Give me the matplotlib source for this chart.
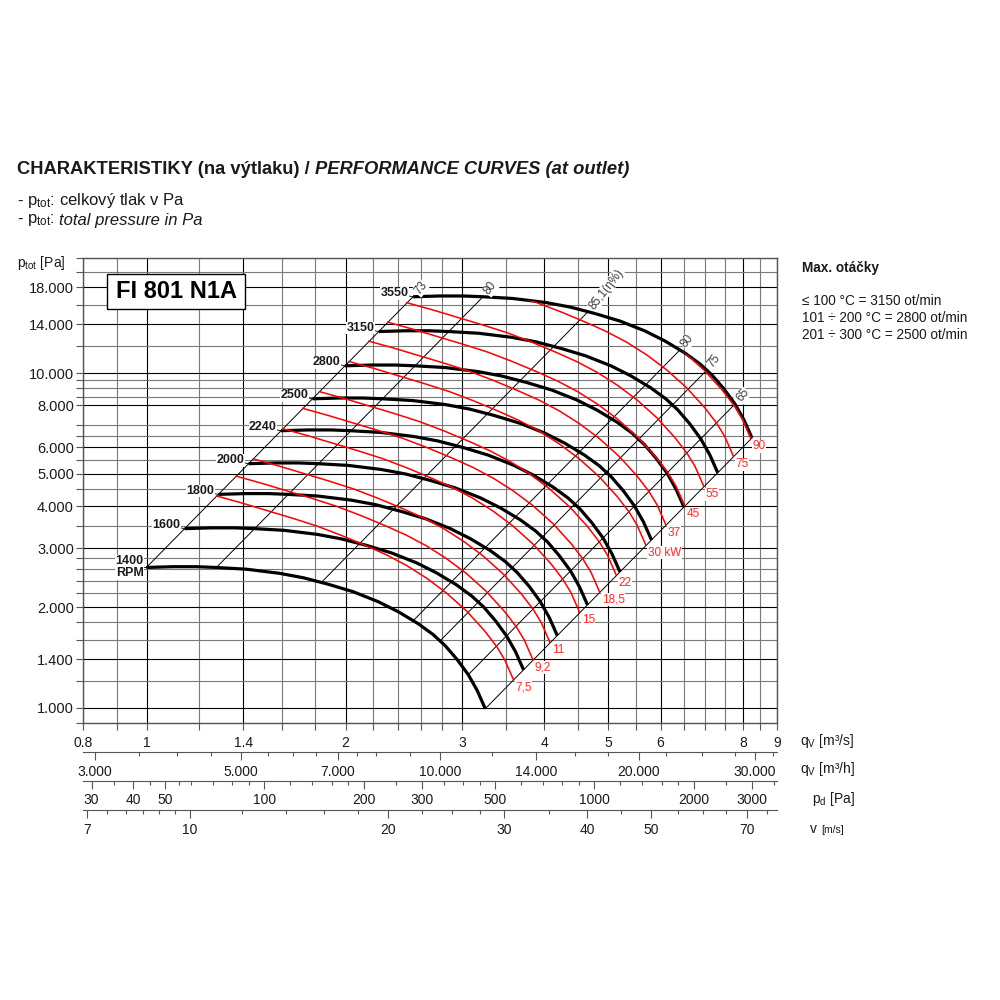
import matplotlib
matplotlib.use('Agg')
import matplotlib.pyplot as plt
from matplotlib.path import Path
from matplotlib.patches import Rectangle
from matplotlib.ticker import NullLocator, NullFormatter

plt.rcParams['font.family'] = ['Liberation Sans', 'DejaVu Sans']
plt.rcParams['mathtext.fontset'] = 'custom'
plt.rcParams['mathtext.rm'] = 'Liberation Sans'
plt.rcParams['mathtext.it'] = 'Liberation Sans:italic'
plt.rcParams['mathtext.bf'] = 'Liberation Sans:bold'

# ---- grid / ticks -------------------------------------------------------
q_grid = [0.8, 0.9, 1, 1.2, 1.4, 1.6, 1.8, 2, 2.2, 2.4, 2.6, 2.8, 3, 3.5, 4,
          4.5, 5, 5.5, 6, 6.5, 7, 7.5, 8, 8.5, 9]
q_labels = {0.8: '0.8', 1: '1', 1.4: '1.4', 2: '2', 3: '3', 4: '4', 5: '5',
            6: '6', 8: '8', 9: '9'}
p_grid = [900, 1000, 1200, 1400, 1600, 1800, 2000, 2200, 2400, 2600, 2800,
          3000, 3500, 4000, 4500, 5000, 5500, 6000, 6500, 7000, 8000, 8500,
          9000, 9500, 10000, 12000, 14000, 16000, 18000, 20000, 22000]
p_labels = {1000: '1.000', 1400: '1.400', 2000: '2.000', 3000: '3.000',
            4000: '4.000', 5000: '5.000', 6000: '6.000', 8000: '8.000',
            10000: '10.000', 14000: '14.000', 18000: '18.000'}

# ---- fan curves (q in m3/s, p in Pa) -------------------------------------
q_3550 = [2.530, 2.779, 3.012, 3.229, 3.585, 4.023, 4.374, 4.773, 5.208, 5.683, 6.093, 6.534, 6.885, 7.179, 7.486, 7.779, 8.027, 8.254]
p_3550 = [16890, 16980, 16980, 16890, 16690, 16230, 15740, 15050, 14290, 13350, 12460, 11470, 10640, 9860, 8960, 8080, 7240, 6400]
q_3150 = [2.245, 2.466, 2.673, 2.865, 3.181, 3.570, 3.881, 4.235, 4.621, 5.043, 5.407, 5.798, 6.109, 6.370, 6.642, 6.902, 7.123, 7.324]
p_3150 = [13298, 13369, 13369, 13298, 13141, 12779, 12393, 11849, 11251, 10511, 9810, 9031, 8377, 7763, 7055, 6362, 5700, 5039]
q_2800 = [1.995, 2.192, 2.376, 2.547, 2.828, 3.173, 3.450, 3.765, 4.108, 4.482, 4.806, 5.154, 5.430, 5.662, 5.904, 6.136, 6.331, 6.510]
p_2800 = [10507, 10563, 10563, 10507, 10383, 10097, 9792, 9363, 8890, 8305, 7751, 7135, 6619, 6134, 5574, 5027, 4504, 3981]
q_2500 = [1.782, 1.957, 2.121, 2.274, 2.525, 2.833, 3.080, 3.361, 3.668, 4.002, 4.291, 4.601, 4.849, 5.056, 5.272, 5.478, 5.653, 5.813]
p_2500 = [8376, 8421, 8421, 8376, 8277, 8049, 7806, 7464, 7087, 6621, 6179, 5688, 5277, 4890, 4444, 4007, 3591, 3174]
q_2240 = [1.596, 1.754, 1.901, 2.037, 2.262, 2.538, 2.760, 3.012, 3.286, 3.586, 3.845, 4.123, 4.344, 4.530, 4.724, 4.909, 5.065, 5.208]
p_2240 = [6725, 6761, 6761, 6725, 6645, 6462, 6267, 5992, 5690, 5315, 4961, 4567, 4236, 3926, 3567, 3217, 2883, 2548]
q_2000 = [1.425, 1.566, 1.697, 1.819, 2.020, 2.266, 2.464, 2.689, 2.934, 3.202, 3.433, 3.681, 3.879, 4.045, 4.217, 4.383, 4.522, 4.650]
p_2000 = [5361, 5389, 5389, 5361, 5297, 5151, 4996, 4777, 4536, 4237, 3955, 3641, 3377, 3130, 2844, 2565, 2298, 2031]
q_1800 = [1.283, 1.409, 1.527, 1.637, 1.818, 2.040, 2.218, 2.420, 2.641, 2.881, 3.089, 3.313, 3.491, 3.640, 3.796, 3.944, 4.070, 4.185]
p_1800 = [4342, 4365, 4365, 4342, 4291, 4173, 4047, 3869, 3674, 3432, 3203, 2949, 2735, 2535, 2304, 2077, 1861, 1645]
q_1600 = [1.140, 1.252, 1.358, 1.455, 1.616, 1.813, 1.971, 2.151, 2.347, 2.561, 2.746, 2.945, 3.103, 3.236, 3.374, 3.506, 3.618, 3.720]
p_1600 = [3431, 3449, 3449, 3431, 3390, 3297, 3197, 3057, 2903, 2712, 2531, 2330, 2161, 2003, 1820, 1641, 1471, 1300]
q_1400 = [0.998, 1.096, 1.188, 1.273, 1.414, 1.587, 1.725, 1.882, 2.054, 2.241, 2.403, 2.577, 2.715, 2.831, 2.952, 3.068, 3.166, 3.255]
p_1400 = [2627, 2641, 2641, 2627, 2596, 2524, 2448, 2341, 2223, 2076, 1938, 1784, 1655, 1534, 1394, 1257, 1126, 995]

rpm_labels = ['1400\nRPM', '1600', '1800', '2000', '2240', '2500', '2800', '3150', '3550']

# ---- motor power curves (kW) ---------------------------------------------
q_kw7_5 = [1.275, 1.392, 1.518, 1.657, 1.808, 1.972, 2.152, 2.308, 2.475, 2.653, 2.845, 3.051, 3.248, 3.387, 3.483, 3.589]
p_kw7_5 = [4294, 4092, 3887, 3691, 3494, 3273, 3045, 2862, 2661, 2440, 2201, 1945, 1698, 1525, 1393, 1218]
q_kw9_2 = [1.365, 1.490, 1.625, 1.774, 1.935, 2.111, 2.304, 2.471, 2.649, 2.840, 3.046, 3.266, 3.477, 3.626, 3.729, 3.842]
p_kw9_2 = [4921, 4689, 4455, 4230, 4004, 3751, 3490, 3280, 3050, 2796, 2522, 2229, 1946, 1748, 1596, 1396]
q_kw11 = [1.449, 1.581, 1.725, 1.883, 2.054, 2.240, 2.445, 2.622, 2.812, 3.014, 3.232, 3.466, 3.690, 3.848, 3.957, 4.077]
p_kw11 = [5542, 5282, 5017, 4764, 4510, 4224, 3930, 3694, 3435, 3149, 2841, 2510, 2192, 1968, 1798, 1572]
q_kw15 = [1.606, 1.754, 1.913, 2.088, 2.278, 2.485, 2.711, 2.908, 3.118, 3.343, 3.584, 3.844, 4.092, 4.267, 4.388, 4.522]
p_kw15 = [6816, 6496, 6170, 5859, 5546, 5196, 4834, 4543, 4224, 3873, 3494, 3087, 2695, 2421, 2211, 1933]
q_kw18_5 = [1.723, 1.881, 2.051, 2.239, 2.443, 2.664, 2.908, 3.118, 3.344, 3.584, 3.844, 4.122, 4.388, 4.576, 4.706, 4.849]
p_kw18_5 = [7839, 7470, 7096, 6738, 6378, 5975, 5559, 5225, 4858, 4454, 4018, 3551, 3100, 2784, 2543, 2223]
q_kw22 = [1.825, 1.993, 2.173, 2.372, 2.588, 2.823, 3.081, 3.304, 3.543, 3.798, 4.073, 4.368, 4.650, 4.849, 4.986, 5.138]
p_kw22 = [8799, 8385, 7965, 7564, 7160, 6707, 6240, 5865, 5453, 5000, 4510, 3986, 3480, 3125, 2855, 2496]
q_kw30 = [2.024, 2.210, 2.410, 2.630, 2.870, 3.130, 3.416, 3.664, 3.929, 4.211, 4.516, 4.843, 5.156, 5.377, 5.529, 5.697]
p_kw30 = [10820, 10311, 9795, 9301, 8804, 8247, 7673, 7212, 6705, 6148, 5546, 4901, 4279, 3843, 3510, 3069]
q_kw37 = [2.170, 2.369, 2.584, 2.821, 3.078, 3.357, 3.663, 3.929, 4.213, 4.516, 4.843, 5.193, 5.529, 5.765, 5.929, 6.109]
p_kw37 = [12442, 11857, 11263, 10695, 10124, 9484, 8823, 8293, 7710, 7070, 6377, 5636, 4920, 4419, 4036, 3529]
q_kw45 = [2.317, 2.529, 2.758, 3.011, 3.285, 3.583, 3.910, 4.194, 4.497, 4.821, 5.170, 5.544, 5.902, 6.155, 6.329, 6.522]
p_kw45 = [14178, 13511, 12835, 12187, 11537, 10807, 10054, 9450, 8786, 8057, 7268, 6422, 5607, 5035, 4600, 4022]
q_kw55 = [2.477, 2.704, 2.949, 3.219, 3.513, 3.831, 4.181, 4.484, 4.808, 5.154, 5.527, 5.927, 6.310, 6.580, 6.767, 6.973]
p_kw55 = [16208, 15445, 14672, 13932, 13188, 12354, 11493, 10803, 10044, 9210, 8308, 7341, 6409, 5756, 5258, 4597]
q_kw75 = [3.570, 3.895, 4.248, 4.636, 4.972, 5.332, 5.716, 6.129, 6.573, 6.998, 7.297, 7.504, 7.732]
p_kw75 = [17132, 16218, 15192, 14134, 13284, 12351, 11326, 10216, 9028, 7881, 7078, 6466, 5654]
q_kw90 = [4.927, 5.284, 5.666, 6.074, 6.513, 6.985, 7.436, 7.754, 7.974, 8.217]
p_kw90 = [15960, 15001, 13948, 12789, 11537, 10195, 8900, 7993, 7301, 6384]

kw_labels = ['7,5', '9,2', '11', '15', '18,5', '22', '30 kW', '37', '45', '55', '75', '90']

# ---- efficiency lines (top point on 3550 curve, bottom point on 1400) ----
eta_top_q = [2.53, 3.23, 4.66, 6.42, 7.05, 7.78, 8.254]
eta_top_p = [16890, 16890, 15250, 11720, 10200, 8080, 6400]
eta_bot_q = [0.998, 1.274, 1.838, 2.532, 2.780, 3.068, 3.255]
eta_bot_p = [2627, 2627, 2372, 1823, 1586, 1257, 995]
eta_labels = ['73', '80', '85,1(η%)', '80', '75', '65', '']

# ---- lower scales ---------------------------------------------------------
m3h_major = [3000, 5000, 7000, 10000, 14000, 20000, 30000]
m3h_minor = [3500, 4000, 4500, 5500, 6000, 6500, 7500, 8000, 9000, 12000,
             16000, 18000, 22000, 25000, 28000, 32000]
pd_major = [30, 40, 50, 100, 200, 300, 500, 1000, 2000, 3000]
pd_minor = [35, 45, 55, 60, 70, 80, 90, 120, 140, 160, 180, 250, 350, 400,
            450, 600, 700, 800, 900, 1200, 1400, 1600, 1800, 2500, 3500]
v_major = [7, 10, 20, 30, 40, 50, 70]
v_minor = [7.5, 8, 8.5, 9, 9.5, 12, 14, 16, 18, 22.5, 25, 27.5, 35, 45, 55,
           60, 65, 75]
PD_PER_Q2 = 44.13   # dynamic pressure per (m3/s)^2 at the outlet
V_PER_Q = 8.62      # outlet velocity per m3/s

TXT = '#1a1a1a'
GRAY = '#7a7a7a'
RED = '#ff0000'

fig = plt.figure(figsize=(10, 10), dpi=100)
L, B, W, H = 0.083, 0.2767, 0.6938, 0.465
ax = fig.add_axes([L, B, W, H])
ax.set_xscale('log')
ax.set_yscale('log')
ax.set_xlim(0.8, 9)
ax.set_ylim(900, 22000)

for q in q_grid:
    c = 'black' if q in q_labels else GRAY
    ax.axvline(q, color=c, lw=0.8, zorder=1)
for p in p_grid:
    c = 'black' if p in p_labels else GRAY
    ax.axhline(p, color=c, lw=0.8, zorder=1)

ax.xaxis.set_minor_locator(NullLocator())
ax.yaxis.set_minor_locator(NullLocator())
ax.set_xticks(q_grid)
ax.set_xticklabels([q_labels.get(q, '') for q in q_grid])
ax.set_yticks(p_grid)
ax.set_yticklabels([p_labels.get(p, '') for p in p_grid])
ax.tick_params(axis='both', direction='out', length=5, width=0.8,
               color='#555555', labelcolor=TXT)
ax.tick_params(axis='x', labelsize=10, pad=4)
ax.tick_params(axis='y', labelsize=10.5, pad=1.5)
for s in ax.spines.values():
    s.set_color('#555555')
    s.set_linewidth(1.0)

# efficiency lines
for tq, tp, bq, bp, lab in zip(eta_top_q, eta_top_p, eta_bot_q, eta_bot_p, eta_labels):
    ax.plot([bq, tq], [bp, tp], color='black', lw=0.7, zorder=3)
    if lab:
        ax.annotate(lab, xy=(tq, tp), xytext=(2.5, 2.5), textcoords='offset points',
                    rotation=52, rotation_mode='anchor', ha='left', va='center',
                    fontsize=8.5, color='#3a3a3a', zorder=7,
                    bbox=dict(fc='white', ec='none', pad=0.3))

# fan curves
fan_q = [q_1400, q_1600, q_1800, q_2000, q_2240, q_2500, q_2800, q_3150, q_3550]
fan_p = [p_1400, p_1600, p_1800, p_2000, p_2240, p_2500, p_2800, p_3150, p_3550]
for qs, ps, lab in zip(fan_q, fan_p, rpm_labels):
    ax.plot(qs, ps, color='black', lw=2.3, solid_joinstyle='round',
            solid_capstyle='butt', zorder=4)
    if '\n' in lab:
        off = (-2, 0)
    else:
        off = (-3, 2.5)
    ax.annotate(lab, xy=(qs[0], ps[0]), xytext=off, textcoords='offset points',
                ha='right', va='center', fontsize=9, fontweight='bold',
                color=TXT, zorder=8, linespacing=1.0,
                bbox=dict(fc='white', ec='none', pad=0.3),
                arrowprops=dict(arrowstyle='-', lw=0.6, color='black',
                                shrinkA=0, shrinkB=0))

# region below the maximum speed curve, used to clip the power curves
clip_verts = [(0.8, p_3550[0])] + list(zip(q_3550, p_3550)) + \
             [(9, p_3550[-1]), (9, 900), (0.8, 900), (0.8, p_3550[0])]
clip_path = Path(clip_verts, closed=True)

kw_q = [q_kw7_5, q_kw9_2, q_kw11, q_kw15, q_kw18_5, q_kw22, q_kw30, q_kw37,
        q_kw45, q_kw55, q_kw75, q_kw90]
kw_p = [p_kw7_5, p_kw9_2, p_kw11, p_kw15, p_kw18_5, p_kw22, p_kw30, p_kw37,
        p_kw45, p_kw55, p_kw75, p_kw90]
for qs, ps, lab in zip(kw_q, kw_p, kw_labels):
    ln, = ax.plot(qs, ps, color=RED, lw=1.1, solid_joinstyle='round', zorder=5)
    ln.set_clip_path(clip_path, ax.transData)
    ax.annotate(lab, xy=(qs[-1], ps[-1]), xytext=(1.5, -1.5),
                textcoords='offset points', ha='left', va='top',
                fontsize=8.5, color='#ff2a2a', zorder=8,
                bbox=dict(fc='white', ec='none', pad=0.3))

# ---- lower scales ---------------------------------------------------------
def lower_scale(y_px, lim, major, minor, sep):
    a = fig.add_axes([L, 1 - y_px / 1000, W, 1e-5])
    a.set_xscale('log')
    a.set_xlim(*lim)
    a.patch.set_visible(False)
    for s in ['top', 'left', 'right']:
        a.spines[s].set_visible(False)
    a.spines['bottom'].set_color('#555555')
    a.yaxis.set_visible(False)
    a.set_xticks(major)
    if sep:
        a.set_xticklabels(['{:,}'.format(m).replace(',', '.') for m in major])
    else:
        a.set_xticklabels([str(m) for m in major])
    a.set_xticks(minor, minor=True)
    a.xaxis.set_minor_formatter(NullFormatter())
    a.tick_params(which='major', direction='out', length=6, width=0.8,
                  color='#555555', labelsize=10, labelcolor=TXT, pad=3)
    a.tick_params(which='minor', direction='out', length=3, width=0.8,
                  color='#555555')
    return a

lower_scale(752, (0.8 * 3600, 9 * 3600), m3h_major, m3h_minor, True)
lower_scale(781, (PD_PER_Q2 * 0.8 ** 2, PD_PER_Q2 * 9 ** 2), pd_major, pd_minor, False)
lower_scale(810, (V_PER_Q * 0.8, V_PER_Q * 9), v_major, v_minor, False)

fig.text(0.800, 1 - 0.741, 'q$_{\\mathrm{V}}$ [m³/s]', fontsize=10, va='center', color=TXT)
fig.text(0.800, 1 - 0.769, 'q$_{\\mathrm{V}}$ [m³/h]', fontsize=10, va='center', color=TXT)
fig.text(0.812, 1 - 0.799, 'p$_{\\mathrm{d}}$ [Pa]', fontsize=10, va='center', color=TXT)
fig.text(0.810, 1 - 0.829, 'v', fontsize=10, va='center', color=TXT)
fig.text(0.821, 1 - 0.830, '[m/s]', fontsize=7.5, va='center', color=TXT)

# ---- texts ----------------------------------------------------------------
fig.text(0.017, 1 - 0.263, 'p$_{\\mathrm{tot}}$ [Pa]', fontsize=10, va='center', color=TXT)

t1 = fig.text(0.017, 1 - 0.170, 'CHARAKTERISTIKY (na výtlaku) / ', fontsize=13.2,
              fontweight='bold', va='center', color=TXT)
fig.canvas.draw()
x1 = t1.get_window_extent().x1 / fig.bbox.width
fig.text(x1, 1 - 0.170, 'PERFORMANCE CURVES (at outlet)', fontsize=13.2,
         fontweight='bold', style='italic', va='center', color=TXT)

fig.text(0.017, 1 - 0.200, '- p$_{\\mathrm{tot}}$: celkový tlak v Pa', fontsize=12,
         va='center', color=TXT)
t2 = fig.text(0.017, 1 - 0.220, '- p$_{\\mathrm{tot}}$:', fontsize=12,
              va='center', color=TXT)
fig.canvas.draw()
x2 = t2.get_window_extent().x1 / fig.bbox.width + 0.004
fig.text(x2, 1 - 0.220, 'total pressure in Pa', fontsize=12, style='italic',
         va='center', color=TXT)

fig.add_artist(Rectangle((0.1073, 1 - 0.309), 0.1377, 0.0347,
                         transform=fig.transFigure, fc='white', ec='black',
                         lw=1.0, zorder=2))
fig.text(0.1762, 1 - 0.2917, 'FI 801 N1A', fontsize=17, fontweight='bold',
         ha='center', va='center', color='black', zorder=3)

fig.text(0.802, 1 - 0.268, 'Max. otáčky', fontsize=9.8, fontweight='bold',
         va='center', color=TXT)
fig.text(0.802, 1 - 0.301, '≤ 100 °C = 3150 ot/min', fontsize=9.8, va='center', color=TXT)
fig.text(0.802, 1 - 0.318, '101 ÷ 200 °C = 2800 ot/min', fontsize=9.8, va='center', color=TXT)
fig.text(0.802, 1 - 0.335, '201 ÷ 300 °C = 2500 ot/min', fontsize=9.8, va='center', color=TXT)

fig.savefig('out.png', dpi=100, facecolor='white')
